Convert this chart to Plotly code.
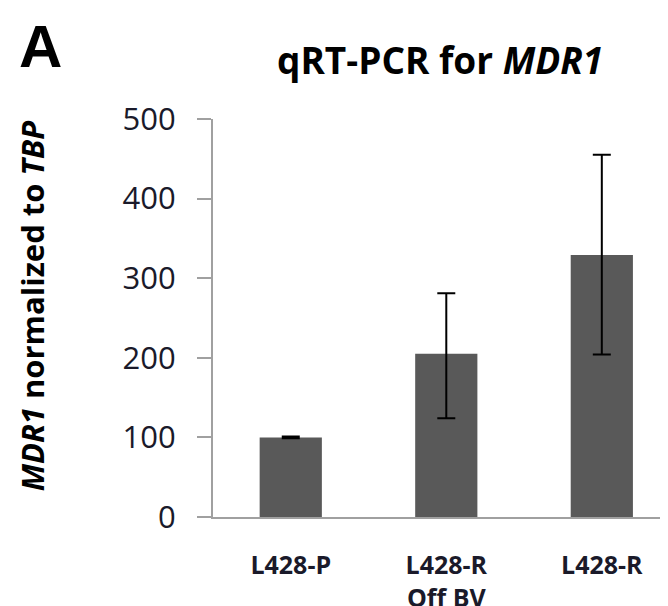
import plotly.graph_objects as go

categories = ["L428-P", "L428-R<br>Off BV", "L428-R"]
values = [100, 205, 329]
err_plus = [1, 76, 126]
err_minus = [1, 81, 125]
y_ticks = [0, 100, 200, 300, 400, 500]

FONT = "Open Sans"
AXIS_COLOR = "#a0a0a0"

fig = go.Figure()
fig.add_trace(go.Bar(
    x=categories, y=values, width=0.4,
    marker=dict(color="#595959", line=dict(width=0)),
    error_y=dict(type="data", symmetric=False, array=err_plus, arrayminus=err_minus,
                 color="black", thickness=2, width=9),
))

fig.update_layout(
    width=668, height=606,
    margin=dict(l=205, r=0, t=111, b=87),
    paper_bgcolor="white", plot_bgcolor="white",
    showlegend=False,
    xaxis=dict(
        range=[-0.5, 2.477], showline=True, linecolor=AXIS_COLOR, linewidth=2,
        ticks="", showgrid=False, zeroline=False,
        tickfont=dict(family=FONT, size=25, color="#1a1a2a", weight="bold"),
        ticklabelstandoff=25,
    ),
    yaxis=dict(
        range=[0, 500], tickvals=y_ticks, showline=True, linecolor=AXIS_COLOR, linewidth=2,
        ticks="outside", ticklen=14, tickwidth=2, tickcolor=AXIS_COLOR,
        showgrid=False, zeroline=False,
        tickfont=dict(family=FONT, size=31, color="#1a1a2a"),
        ticklabelstandoff=15,
    ),
    yaxis2=dict(
        overlaying="y", range=[0, 500], tickvals=y_ticks, showline=False,
        ticks="inside", ticklen=14, tickwidth=2, tickcolor=AXIS_COLOR,
        showticklabels=False, showgrid=False, zeroline=False,
    ),
    annotations=[
        dict(text="<b>A</b>", xref="paper", yref="paper",
             x=(9-205)/463, y=1 + 111/408, xanchor="left", yanchor="top",
             showarrow=False, font=dict(family="Liberation Sans", size=60, color="black")),
        dict(text="<b>qRT-PCR for <i>MDR1</i></b>", xref="paper", yref="paper",
             x=(432-205)/463, y=1 + (111-50)/408, xanchor="center", yanchor="middle",
             showarrow=False, font=dict(family=FONT, size=37, color="black")),
        dict(text="<b><i>MDR1</i> normalized to <i>TBP</i></b>", xref="paper", yref="paper",
             x=(24-205)/463, y=(519-303)/408, xanchor="center", yanchor="middle",
             textangle=-90, showarrow=False, font=dict(family=FONT, size=31, color="black")),
    ],
)

fig.write_html("out.html")
